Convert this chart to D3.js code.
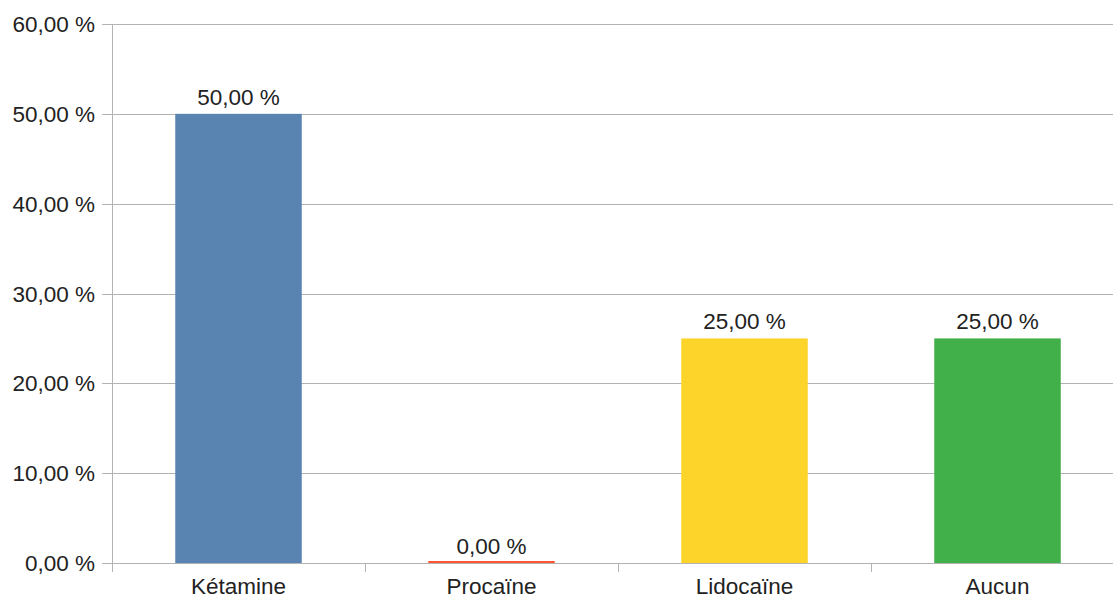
<!DOCTYPE html>
<html><head><meta charset="utf-8">
<script src="https://cdn.jsdelivr.net/npm/d3@7"></script>
<style>body{margin:0;background:#fff}svg{display:block}</style>
</head><body>
<svg id="c" width="1113" height="599"></svg>
<script>
const categories = ["Kétamine", "Procaïne", "Lidocaïne", "Aucun"];
const values = [50, 0, 25, 25];
const colors = ["#5983b0", "#ff5533", "#fdd42a", "#41af4a"];
const yTicks = [0, 10, 20, 30, 40, 50, 60];

const svg = d3.select("#c");
const fmt = v => v.toFixed(2).replace(".", ",") + " %";
const x = d3.scaleBand().domain(categories).range([112, 1124]).paddingInner(0.5).paddingOuter(0.25);
const y = d3.scaleLinear().domain([0, 60]).range([563, 24]);
const font = "Liberation Sans, Arial, sans-serif";
const fs = 22.5;
const grid = "#b3b3b3";

// gridlines
svg.append("g").selectAll("line").data(yTicks).join("line")
  .attr("x1", 102).attr("x2", 1124)
  .attr("y1", d => Math.round(y(d)) + 0.5).attr("y2", d => Math.round(y(d)) + 0.5)
  .attr("stroke", grid).attr("stroke-width", 1);
// y axis line
svg.append("line").attr("x1", 112.5).attr("x2", 112.5).attr("y1", y(60)).attr("y2", 572)
  .attr("stroke", grid);
// x ticks
const bounds = d3.range(categories.length + 1).map(i => 112 + i * x.step());
svg.append("g").selectAll("line").data(bounds).join("line")
  .attr("x1", d => Math.round(d) + 0.5).attr("x2", d => Math.round(d) + 0.5)
  .attr("y1", 563).attr("y2", 572).attr("stroke", grid);
// y labels
svg.append("g").selectAll("text").data(yTicks).join("text")
  .attr("x", 95).attr("y", d => y(d)).attr("dy", "0.36em")
  .attr("text-anchor", "end").attr("font-family", font).attr("font-size", fs).attr("fill", "#222")
  .text(fmt);
// bars
svg.append("g").selectAll("rect").data(values).join("rect")
  .attr("x", (d, i) => x(categories[i])).attr("width", x.bandwidth())
  .attr("y", d => d === 0 ? y(0) - 2 : y(d)).attr("height", d => d === 0 ? 2 : y(0) - y(d))
  .attr("fill", (d, i) => colors[i]);
// value labels
svg.append("g").selectAll("text").data(values).join("text")
  .attr("x", (d, i) => x(categories[i]) + x.bandwidth() / 2).attr("y", d => y(d) - 9)
  .attr("text-anchor", "middle").attr("font-family", font).attr("font-size", fs).attr("fill", "#222")
  .text(fmt);
// category labels
svg.append("g").selectAll("text").data(categories).join("text")
  .attr("x", d => x(d) + x.bandwidth() / 2).attr("y", 594)
  .attr("text-anchor", "middle").attr("font-family", font).attr("font-size", fs).attr("fill", "#222")
  .text(d => d);
</script>
</body></html>
